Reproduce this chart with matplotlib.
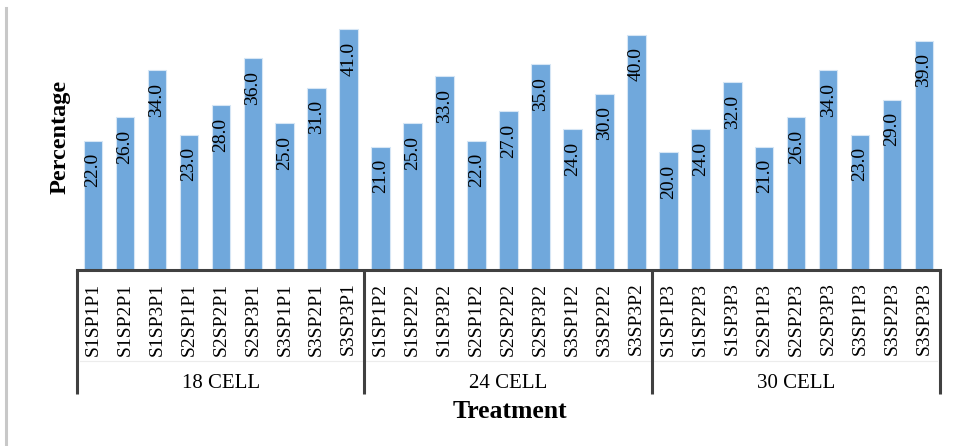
import matplotlib
matplotlib.use("Agg")
import matplotlib.pyplot as plt
from matplotlib.lines import Line2D
from matplotlib.transforms import blended_transform_factory

groups = ["18 CELL", "24 CELL", "30 CELL"]
treatments = [
    ["S1SP1P1", "S1SP2P1", "S1SP3P1", "S2SP1P1", "S2SP2P1", "S2SP3P1", "S3SP1P1", "S3SP2P1", "S3SP3P1"],
    ["S1SP1P2", "S1SP2P2", "S1SP3P2", "S2SP1P2", "S2SP2P2", "S2SP3P2", "S3SP1P2", "S3SP2P2", "S3SP3P2"],
    ["S1SP1P3", "S1SP2P3", "S1SP3P3", "S2SP1P3", "S2SP2P3", "S2SP3P3", "S3SP1P3", "S3SP2P3", "S3SP3P3"],
]
values_18 = [22.0, 26.0, 34.0, 23.0, 28.0, 36.0, 25.0, 31.0, 41.0]
values_24 = [21.0, 25.0, 33.0, 22.0, 27.0, 35.0, 24.0, 30.0, 40.0]
values_30 = [20.0, 24.0, 32.0, 21.0, 26.0, 34.0, 23.0, 29.0, 39.0]

labels = [t for g in treatments for t in g]
values = values_18 + values_24 + values_30

serif = ["Liberation Serif", "DejaVu Serif"]
bar_color = "#70a8dc"
axis_color = "#404040"

fig = plt.figure(figsize=(9.56, 4.46), dpi=100)
W, H = 956, 446
x0, x1 = 77, 940
y_base, y_top = 270, 5.6
ax = fig.add_axes([x0 / W, 1 - y_base / H, (x1 - x0) / W, (y_base - y_top) / H])


def fx(px):
    return px / W


def fy(py):
    return 1 - py / H


n = len(values)
xs = list(range(n))
bars = ax.bar(xs, values, width=0.58, color=bar_color, edgecolor="#d6e6f5", linewidth=0.8)
ax.set_xlim(-0.5, n - 0.5)
ax.set_ylim(0, 45)

for b, v in zip(bars, values):
    ax.annotate(f"{v:.1f}", (b.get_x() + b.get_width() / 2, v), xytext=(0, -9),
                textcoords="offset points", rotation=90, ha="center", va="top",
                fontsize=14, family=serif, color="black")

for s in ["left", "right", "top"]:
    ax.spines[s].set_visible(False)
ax.spines["bottom"].set_color(axis_color)
ax.spines["bottom"].set_linewidth(2.2)
ax.set_yticks([])
ax.set_xticks(xs)
ax.set_xticklabels(labels, rotation=90, fontsize=14, family=serif)
ax.tick_params(axis="x", length=0, pad=9)

# multi-level category axis: faint divider, group separators and group labels
fig.add_artist(Line2D([fx(80), fx(937)], [fy(361), fy(361)], color="#ececec", lw=0.8, zorder=0))
for px in [77, 364, 652, 940]:
    fig.add_artist(Line2D([fx(px), fx(px)], [fy(270), fy(394)], color=axis_color, lw=2.2,
                          solid_capstyle="butt"))

group_tf = blended_transform_factory(ax.transData, fig.transFigure)
for i, g in enumerate(groups):
    ax.text(i * 9 + 4, fy(383), g, transform=group_tf, ha="center", va="center",
            fontsize=15, family=serif)

fig.text(fx(510), fy(411), "Treatment", ha="center", va="center", fontsize=18.5,
         fontweight="bold", family=serif)
fig.text(fx(60), fy(137), "Percentage", ha="center", va="center", rotation=90,
         fontsize=17.5, fontweight="bold", family=serif)

# left page border
fig.add_artist(Line2D([fx(6), fx(6)], [fy(8), fy(446)], color="#c8c8c8", lw=2.2))

fig.savefig("out.png", dpi=100)
